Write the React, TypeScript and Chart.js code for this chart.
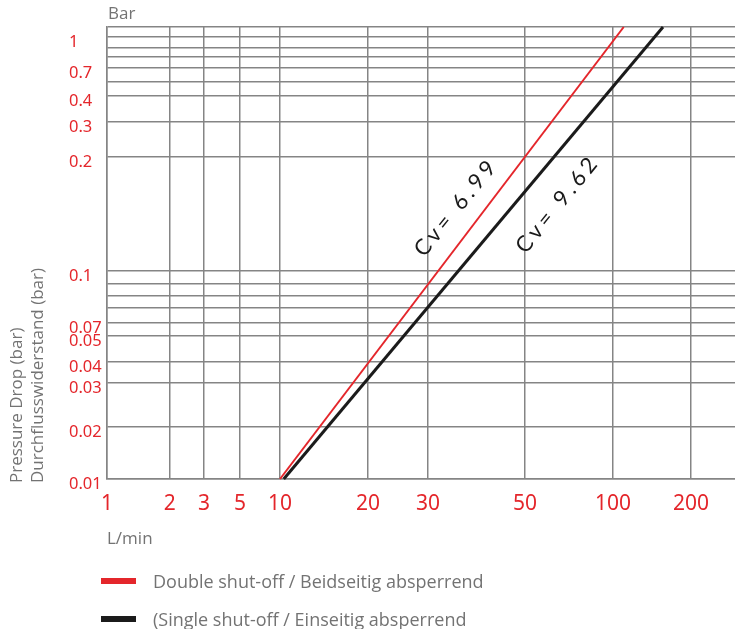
import React, { useEffect, useRef } from 'react';
import { Chart, Scale, registerables } from 'chart.js';

// ---------------- data ----------------
const xTickValues = [1, 2, 3, 5, 10, 20, 30, 50, 100, 200];
const xTickLabels = ['1', '2', '3', '5', '10', '20', '30', '50', '100', '200'];
const xAxisMax = 300;

const yTickValues = [0.01, 0.02, 0.03, 0.04, 0.05, 0.07, 0.075, 0.08, 0.09, 0.1, 0.2, 0.3, 0.4, 0.5, 0.7, 0.8, 0.9, 1, 1.2];
const yTickLabels = ['0.01', '0.02', '0.03', '0.04', '0.05', '0.07', '', '', '', '0.1', '0.2', '0.3', '0.4', '', '0.7', '', '', '1', ''];

const seriesNames = ['Double shut-off / Beidseitig absperrend', '(Single shut-off / Einseitig absperrend'];
const doubleFlow = [10, 110];
const doubleDrop = [0.01, 1.2];
const singleFlow = [10.3, 156];
const singleDrop = [0.01, 1.2];

const cvLabels = ['Cv= 6.99', 'Cv= 9.62'];
const cvAnchorFlow = [34.6, 64.1];
const cvAnchorDrop = [0.146, 0.149];

const yTitleLines = ['Pressure Drop (bar)', 'Durchflusswiderstand (bar)'];

// ---------------- axis geometry (fraction of plot area for each knot) ----------------
const xKnotPos = [0, 0.0998, 0.1545, 0.2118, 0.2755, 0.4156, 0.5111, 0.6656, 0.8057, 0.9299, 1];
const yKnotPos = [0, 0.115, 0.2124, 0.2588, 0.3164, 0.3451, 0.3783, 0.4049, 0.4314, 0.4602, 0.7124, 0.7898, 0.8473, 0.8783, 0.9093, 0.9336, 0.9535, 0.9779, 1];

const KNOTS: Record<string, { v: number[]; p: number[]; ticks: number[] }> = {
  x: { v: [...xTickValues, xAxisMax], p: xKnotPos, ticks: xTickValues },
  y: { v: yTickValues, p: yKnotPos, ticks: yTickValues },
};

const RED = '#e4262b';
const GRID = '#858585';
const GRAY_TEXT = '#737373';
const TICK_FONT = "'Liberation Sans Narrow', 'Noto Sans', 'DejaVu Sans', sans-serif";
const TEXT_FONT = "'Open Sans', 'Noto Sans', sans-serif";
const CV_FONT = "Lato, 'Open Sans', sans-serif";

class KnotLogScale extends Scale {
  static id = 'knotlog';
  static defaults = {};
  knots() {
    return KNOTS[(this as any).id];
  }
  determineDataLimits() {
    const k = this.knots();
    (this as any).min = k.v[0];
    (this as any).max = k.v[k.v.length - 1];
  }
  buildTicks() {
    return this.knots().ticks.map((value) => ({ value }));
  }
  getLabelForValue(value: number) {
    return String(value);
  }
  getPixelForValue(value: number) {
    const { v, p } = this.knots();
    let d: number;
    if (value <= v[0]) d = p[0];
    else if (value >= v[v.length - 1]) d = p[p.length - 1];
    else {
      let i = 0;
      while (value > v[i + 1]) i++;
      const t = (Math.log(value) - Math.log(v[i])) / (Math.log(v[i + 1]) - Math.log(v[i]));
      d = p[i] + t * (p[i + 1] - p[i]);
    }
    return (this as any).getPixelForDecimal(d);
  }
  getValueForPixel(pixel: number) {
    const { v, p } = this.knots();
    const d = (this as any).getDecimalForPixel(pixel);
    if (d <= p[0]) return v[0];
    if (d >= p[p.length - 1]) return v[v.length - 1];
    let i = 0;
    while (d > p[i + 1]) i++;
    const t = (d - p[i]) / (p[i + 1] - p[i]);
    return Math.exp(Math.log(v[i]) + t * (Math.log(v[i + 1]) - Math.log(v[i])));
  }
}

Chart.register(...registerables, KnotLogScale);

const annotationPlugin = {
  id: 'cvAnnotations',
  afterDatasetsDraw(chart: any) {
    const { ctx, chartArea, scales } = chart;
    // unit label above the y axis
    ctx.save();
    ctx.font = `17px ${TEXT_FONT}`;
    ctx.fillStyle = GRAY_TEXT;
    ctx.textAlign = 'left';
    ctx.textBaseline = 'middle';
    ctx.fillText('Bar', chartArea.left + 1, chartArea.top - 13);
    ctx.restore();

    // two-line rotated y-axis title
    ctx.save();
    ctx.font = `17px ${TEXT_FONT}`;
    ctx.fillStyle = GRAY_TEXT;
    ctx.textAlign = 'left';
    ctx.textBaseline = 'middle';
    yTitleLines.forEach((line, i) => {
      ctx.save();
      ctx.translate(17 + i * 21.5, chartArea.bottom + 4);
      ctx.rotate(-Math.PI / 2);
      ctx.fillText(line, 0, 0);
      ctx.restore();
    });
    ctx.restore();

    // Cv labels along the curves
    cvLabels.forEach((text, i) => {
      const px = scales.x.getPixelForValue(cvAnchorFlow[i]);
      const py = scales.y.getPixelForValue(cvAnchorDrop[i]);
      ctx.save();
      ctx.translate(px, py);
      ctx.rotate((-51 * Math.PI) / 180);
      ctx.font = `22px ${CV_FONT}`;
      (ctx as any).letterSpacing = '4px';
      ctx.fillStyle = '#1a1a1a';
      ctx.textAlign = 'center';
      ctx.textBaseline = 'middle';
      ctx.fillText(text, 2, 0);
      ctx.restore();
    });
  },
};

export default function App() {
  const canvasRef = useRef<HTMLCanvasElement | null>(null);

  useEffect(() => {
    const canvas = canvasRef.current;
    if (!canvas) return;
    const chart = new Chart(canvas, {
      type: 'line',
      data: {
        datasets: [
          {
            label: seriesNames[0],
            data: doubleFlow.map((x, i) => ({ x, y: doubleDrop[i] })),
            borderColor: RED,
            borderWidth: 2,
            pointRadius: 0,
            fill: false,
          },
          {
            label: seriesNames[1],
            data: singleFlow.map((x, i) => ({ x, y: singleDrop[i] })),
            borderColor: '#1b1b1b',
            borderWidth: 3,
            pointRadius: 0,
            fill: false,
          },
        ],
      },
      options: {
        animation: false,
        responsive: false,
        devicePixelRatio: 1,
        events: [],
        layout: { padding: { left: 69, right: 0, top: 27, bottom: 80 } },
        plugins: { legend: { display: false }, tooltip: { enabled: false } },
        scales: {
          x: {
            type: 'knotlog' as any,
            position: 'bottom',
            afterFit: (scale: any) => {
              scale.height = 70;
            },
            grid: { color: GRID, lineWidth: 1.5, drawTicks: false },
            border: { display: true, color: GRID, width: 1.5 },
            ticks: {
              autoSkip: false,
              maxRotation: 0,
              padding: 12,
              color: RED,
              font: { family: TICK_FONT, size: 21 },
              callback: (value: any) => {
                const i = xTickValues.indexOf(value);
                return i >= 0 ? xTickLabels[i] : '';
              },
            },
            title: {
              display: true,
              text: 'L/min',
              align: 'start',
              color: GRAY_TEXT,
              font: { family: TEXT_FONT, size: 17 },
              padding: { top: 0, bottom: 0 },
            },
          },
          y: {
            type: 'knotlog' as any,
            position: 'left',
            afterFit: (scale: any) => {
              scale.width = 38;
            },
            grid: { color: GRID, lineWidth: 1.5, drawTicks: false },
            border: { display: true, color: GRID, width: 1.5 },
            ticks: {
              autoSkip: false,
              crossAlign: 'far',
              padding: 6,
              labelOffset: 5,
              color: RED,
              font: { family: TICK_FONT, size: 16.5 },
              callback: (value: any) => {
                const i = yTickValues.indexOf(value);
                return i >= 0 ? yTickLabels[i] : '';
              },
            },
          },
        },
      } as any,
      plugins: [annotationPlugin],
    });
    return () => chart.destroy();
  }, []);

  const legendColors = [RED, '#1b1b1b'];
  const legendTops = [581, 619];

  return (
    <div style={{ position: 'absolute', left: 0, top: 0, width: 735, height: 629, background: '#ffffff', overflow: 'hidden' }}>
      <canvas ref={canvasRef} width={735} height={629} style={{ position: 'absolute', left: 0, top: 0 }} />
      {seriesNames.map((name, i) => (
        <div key={name}>
          <div
            style={{
              position: 'absolute',
              left: 101,
              top: legendTops[i] - 3,
              width: 35,
              height: 6,
              background: legendColors[i],
            }}
          />
          <div
            style={{
              position: 'absolute',
              left: 153,
              top: legendTops[i] - 12,
              height: 24,
              lineHeight: '24px',
              fontFamily: TEXT_FONT,
              fontSize: 18,
              color: GRAY_TEXT,
              whiteSpace: 'nowrap',
            }}
          >
            {name}
          </div>
        </div>
      ))}
    </div>
  );
}
